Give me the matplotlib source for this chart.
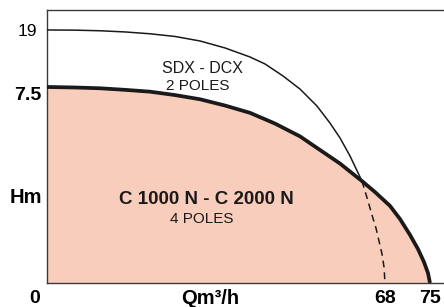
import numpy as np
import matplotlib
matplotlib.use('Agg')
import matplotlib.pyplot as plt
from matplotlib.transforms import ScaledTranslation

# ---- data ----
# 4-pole curve (C 1000 N - C 2000 N)
q_4p = [0, 5.63, 10.66, 15.69, 20.72, 25.75, 30.78, 35.81, 40.84, 45.87, 50.90,
        54.92, 58.95, 63.37, 65.99, 68.78, 70.33, 71.89, 73.13, 74.07, 74.69, 75]
h_4p = [7.5, 7.48, 7.45, 7.39, 7.32, 7.19, 7.03, 6.79, 6.51, 6.10, 5.61,
        5.09, 4.57, 3.90, 3.48, 2.95, 2.45, 1.84, 1.30, 0.80, 0.38, 0]

# 2-pole curve (SDX - DCX), solid part
q_2p = [0, 5.63, 10.66, 15.69, 20.72, 25.75, 30.78, 35.81, 40.84, 43.86, 47.48,
        50.90, 54.32, 56.93, 58.95, 60.96, 63.37]
h_2p = [19.0, 18.96, 18.84, 18.60, 18.23, 17.69, 16.78, 15.37, 13.55, 12.14, 9.72,
        7.42, 6.77, 6.12, 5.55, 4.86, 3.90]

# 2-pole curve, dashed continuation
q_2p_ext = [63.37, 64.58, 65.38, 66.19, 66.79, 67.40, 67.80, 68]
h_2p_ext = [3.90, 3.14, 2.60, 2.10, 1.61, 1.11, 0.61, 0]

x_ticks = [0, 68, 75]
x_ticklabels = ['0', '68', '75']
y_ticks = [7.5, 19]
y_ticklabels = ['7.5', '19']

# ---- schematic (non-linear) axis scales ----
x_knots = [0, 68, 75, 90]
x_disp = [0, 338, 383, 479.4]
y_knots = [0, 7.5, 19, 40]
y_disp = [0, 196, 253, 357]

def xf(v):
    return np.interp(v, x_knots, x_disp)
def xi(v):
    return np.interp(v, x_disp, x_knots)
def yf(v):
    return np.interp(v, y_knots, y_disp)
def yi(v):
    return np.interp(v, y_disp, y_knots)

fam = ['Liberation Sans Narrow', 'Liberation Sans', 'DejaVu Sans']
plt.rcParams['font.family'] = fam

W, H = 444, 307
fig = plt.figure(figsize=(W / 100, H / 100), dpi=100)
ax = fig.add_axes([47 / W, (H - 283) / H, (W - 47) / W, 273 / H])
ax.set_xscale('function', functions=(xf, xi))
ax.set_yscale('function', functions=(yf, yi))
ax.set_xlim(0, 77.18)
ax.set_ylim(0, 23.03)

peach = '#F9CDBB'
ink = '#1a1a1a'
ax.fill_between(q_4p, 0, h_4p, color=peach, lw=0, zorder=1)
ax.plot(q_2p, h_2p, color=ink, lw=1.1, zorder=3, solid_capstyle='butt')
ax.plot(q_2p_ext, h_2p_ext, color=ink, lw=1.1, dashes=(4.5, 3.2), zorder=3)
ax.plot(q_4p, h_4p, color=ink, lw=2.7, zorder=4, solid_capstyle='butt',
        solid_joinstyle='round')

for s in ['left', 'bottom', 'top']:
    ax.spines[s].set_color('#3a3a3a')
    ax.spines[s].set_linewidth(1.0)
ax.spines['right'].set_visible(False)

ax.set_xticks(x_ticks)
ax.set_xticklabels(x_ticklabels, fontsize=14, fontweight='bold')
ax.set_yticks(y_ticks)
ax.set_yticklabels(y_ticklabels, fontsize=12.5)
ax.tick_params(length=0)
ax.tick_params(axis='x', pad=5)
ax.tick_params(axis='y', pad=4)
ax.xaxis.set_minor_locator(matplotlib.ticker.NullLocator())
ax.yaxis.set_minor_locator(matplotlib.ticker.NullLocator())

for lab in ax.get_xticklabels():
    if lab.get_text() == '0':
        lab.set_transform(lab.get_transform() + ScaledTranslation(-12 / 100, 0, fig.dpi_scale_trans))
for lab in ax.get_yticklabels():
    if lab.get_text() == '7.5':
        lab.set_fontweight('bold')
        lab.set_fontsize(14)
        lab.set_transform(lab.get_transform() + ScaledTranslation(0, -7 / 100, fig.dpi_scale_trans))
    else:
        lab.set_transform(lab.get_transform() + ScaledTranslation(-4 / 100, 0, fig.dpi_scale_trans))

ax.text(31.2, 11.3, 'SDX - DCX', ha='center', va='center', fontsize=11.5, color=ink, zorder=5)
ax.text(30.4, 7.6, '2 POLES', ha='center', va='center', fontsize=11, color=ink, zorder=5)
ax.text(32.0, 3.2, 'C 1000 N - C 2000 N', ha='center', va='center', fontsize=13.5,
        fontweight='bold', color=ink, zorder=5)
ax.text(31.2, 2.43, '4 POLES', ha='center', va='center', fontsize=11, color=ink, zorder=5)

ax.annotate('Hm', xy=(0, 0.315), xycoords='axes fraction', xytext=(-5, 0),
            textcoords='offset pixels', ha='right', va='center', fontsize=14.5, fontweight='bold')
ax.annotate('Qm³/h', xy=((210 - 47) / (W - 47), 0), xycoords='axes fraction', xytext=(0, -15),
            textcoords='offset pixels', ha='center', va='center', fontsize=14.5, fontweight='bold')

fig.savefig('out.png', dpi=100)
